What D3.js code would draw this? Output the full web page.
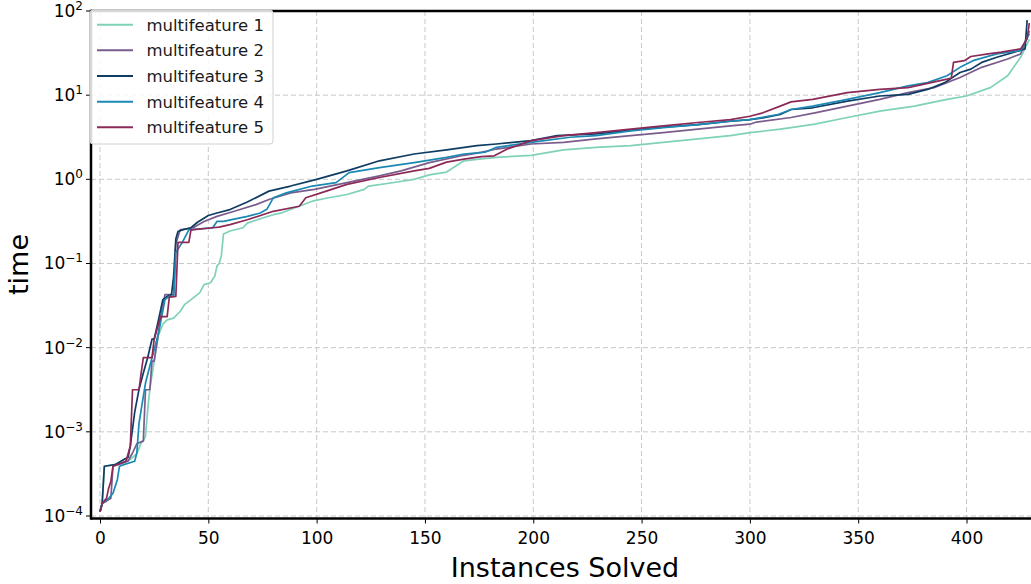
<!DOCTYPE html>
<html>
<head>
<meta charset="utf-8">
<script src="https://cdn.jsdelivr.net/npm/d3@7"></script>
<style>
body { margin: 0; background: #fff; }
svg { display: block; font-family: "DejaVu Sans", sans-serif; }
</style>
</head>
<body>
<svg id="chart" width="1031" height="584"></svg>
<script>
// series names + colours
var seriesNames = ["multifeature 1", "multifeature 2", "multifeature 3", "multifeature 4", "multifeature 5"];
var seriesColors = ["#7fd1b9", "#7a5c8c", "#0f3c62", "#1b89b4", "#8c2a57"];

// [instances solved, time]
var mf1 = [[0,1.12e-4],[1,1.4e-4],[2,3.9e-4],[7,4.1e-4],[12,4.5e-4],[14,4.7e-4],[17,5.5e-4],[19,7.4e-4],[20,7.8e-4],[21,8.9e-4],[22,1.8e-3],[23,3.2e-3],[25,6.9e-3],[27,0.0141],[29,0.019],[31,0.0214],[34,0.0224],[37,0.0269],[39,0.0324],[42,0.0372],[46,0.0447],[48,0.056],[51,0.059],[53,0.071],[54,0.093],[55,0.1],[56,0.123],[57,0.224],[60,0.243],[66,0.266],[68,0.302],[75,0.347],[80,0.38],[84,0.40],[90,0.46],[98,0.55],[105,0.6],[114,0.66],[122,0.76],[124,0.832],[135,0.91],[145,1.0],[152,1.13],[160,1.22],[168,1.66],[175,1.74],[183,1.82],[199,1.93],[214,2.24],[229,2.4],[245,2.51],[260,2.75],[276,3.02],[291,3.31],[300,3.59],[314,3.94],[319,4.12],[330,4.52],[345,5.43],[360,6.46],[376,7.41],[391,8.91],[400,9.77],[411,12.3],[419,17],[425,28.2],[429,46]];
var mf2 = [[0,1.12e-4],[1,1.41e-4],[3,1.5e-4],[5,1.62e-4],[6,3.9e-4],[10,4.2e-4],[13,4.5e-4],[15,5.6e-4],[17,7.2e-4],[20,7.8e-4],[21,3.16e-3],[23,3.16e-3],[24,6.9e-3],[25,6.9e-3],[27,0.0151],[28,0.0234],[30,0.0427],[34,0.0427],[35,0.17],[37,0.251],[43,0.266],[48,0.316],[54,0.363],[62,0.417],[72,0.5],[78,0.575],[88,0.69],[99,0.759],[114,0.912],[129,1.1],[139,1.26],[152,1.58],[168,1.93],[176,2.09],[183,2.29],[199,2.63],[214,2.75],[229,3.02],[245,3.31],[260,3.59],[276,3.94],[291,4.32],[300,4.52],[303,4.79],[319,5.43],[330,6.17],[345,7.41],[360,8.91],[373,10.7],[385,12.3],[397,16.2],[407,21.4],[419,26.9],[425,30.9],[429,58]];
var mf3 = [[0,1.12e-4],[1,1.41e-4],[2,3.9e-4],[7,4.07e-4],[11,4.68e-4],[13,5.0e-4],[14,6.8e-4],[16,1.7e-3],[18,3.2e-3],[20,5e-3],[22,7.6e-3],[24,0.0126],[25,0.0126],[27,0.0214],[29,0.0372],[31,0.0407],[33,0.0427],[34,0.071],[35,0.195],[36,0.24],[38,0.251],[42,0.266],[45,0.309],[50,0.372],[54,0.398],[60,0.437],[68,0.537],[78,0.724],[88,0.832],[100,1.0],[114,1.26],[129,1.66],[145,2.0],[160,2.24],[174,2.51],[183,2.63],[199,2.88],[211,3.31],[229,3.47],[242,3.76],[260,4.17],[276,4.47],[291,4.9],[300,5.13],[306,5.37],[314,5.89],[319,6.76],[329,7.08],[345,8.51],[360,9.77],[373,10.2],[382,11.7],[390,14.1],[397,18.6],[402,20.4],[407,24.5],[414,28.2],[422,32.4],[427,35.5],[428,78]];
var mf4 = [[0,1.12e-4],[1,1.41e-4],[4,1.62e-4],[6,1.86e-4],[8,2.7e-4],[9,3.9e-4],[11,4.07e-4],[16,4.47e-4],[17,5.6e-4],[18,1.26e-3],[21,3.8e-3],[24,7.6e-3],[27,0.0148],[30,0.0372],[32,0.0407],[34,0.0407],[35,0.135],[38,0.178],[41,0.251],[52,0.266],[54,0.316],[57,0.316],[68,0.363],[74,0.398],[77,0.44],[80,0.603],[86,0.69],[98,0.832],[109,0.912],[115,1.2],[129,1.38],[145,1.58],[160,1.82],[168,2.0],[178,2.11],[183,2.4],[199,2.75],[217,3.16],[229,3.31],[245,3.76],[260,4.12],[276,4.47],[291,4.9],[300,5.13],[313,5.89],[319,6.76],[329,7.41],[345,8.91],[360,10.7],[373,12.9],[382,14.1],[391,17.0],[397,21.4],[403,25.7],[414,30.9],[425,33.9],[429,53.7]];
var mf5 = [[0,1.12e-4],[1,1.41e-4],[3,1.62e-4],[4,2.14e-4],[5,2.57e-4],[6,3.9e-4],[12,4.47e-4],[14,6.8e-4],[15,3.16e-3],[18,3.16e-3],[19,5e-3],[20,7.6e-3],[24,7.6e-3],[25,0.0126],[27,0.019],[28,0.0234],[31,0.0234],[32,0.0398],[35,0.0407],[36,0.178],[41,0.178],[42,0.251],[52,0.266],[55,0.27],[60,0.29],[68,0.331],[80,0.417],[92,0.479],[95,0.603],[102,0.69],[114,0.871],[129,1.05],[145,1.26],[152,1.35],[160,1.6],[168,1.74],[176,1.86],[182,1.9],[188,2.29],[199,2.88],[214,3.31],[229,3.59],[245,3.94],[260,4.32],[276,4.73],[291,5.13],[300,5.62],[306,6.17],[314,7.41],[319,8.32],[329,8.91],[345,10.7],[360,11.7],[373,12.3],[391,15.5],[393,16],[394,24.5],[399,25.7],[402,28.8],[410,30.9],[416,32.4],[425,35.5],[428,46.8],[429,72]];
var allSeries = [mf1, mf2, mf3, mf4, mf5];

var xTicks = [0, 50, 100, 150, 200, 250, 300, 350, 400];
var yTicks = [-4, -3, -2, -1, 0, 1, 2]; // powers of ten

var svg = d3.select("#chart");
var pLeft = 91, pTop = 11, pBottom = 518.5, pRight = 1039;

var x = d3.scaleLinear().domain([0, 400]).range([100, 966.5]);
var y = d3.scaleLog().domain([Math.pow(10, -4.03), 100]).range([pBottom, pTop]);

svg.append("defs").append("clipPath").attr("id", "clip")
    .append("rect").attr("x", pLeft).attr("y", pTop - 1).attr("width", pRight - pLeft).attr("height", pBottom - pTop + 2);

// grid
var grid = svg.append("g");
xTicks.forEach(function(t){
    grid.append("line").attr("x1", x(t)).attr("x2", x(t)).attr("y1", pTop).attr("y2", pBottom)
        .attr("stroke", "#c8c8c8").attr("stroke-width", 1).attr("stroke-dasharray", "5,3");
});
yTicks.forEach(function(p){
    grid.append("line").attr("x1", pLeft).attr("x2", pRight).attr("y1", y(Math.pow(10, p))).attr("y2", y(Math.pow(10, p)))
        .attr("stroke", "#c8c8c8").attr("stroke-width", 1).attr("stroke-dasharray", "5,3");
});

// series
var line = d3.line().x(function(d){ return x(d[0]); }).y(function(d){ return y(d[1]); });
var plot = svg.append("g").attr("clip-path", "url(#clip)");
allSeries.forEach(function(s, k){
    plot.append("path").datum(s).attr("d", line)
        .attr("fill", "none").attr("stroke", seriesColors[k]).attr("stroke-width", 1.7)
        .attr("stroke-linejoin", "round");
});

// spines
svg.append("line").attr("x1", pLeft).attr("x2", pLeft).attr("y1", pTop - 1.25).attr("y2", pBottom + 1.25).attr("stroke", "#000").attr("stroke-width", 2.5);
svg.append("line").attr("x1", pLeft).attr("x2", pRight).attr("y1", pTop).attr("y2", pTop).attr("stroke", "#000").attr("stroke-width", 2.5);
svg.append("line").attr("x1", pLeft).attr("x2", pRight).attr("y1", pBottom).attr("y2", pBottom).attr("stroke", "#000").attr("stroke-width", 2.5);

// x axis
var xAxis = svg.append("g").attr("transform", "translate(0," + pBottom + ")")
    .call(d3.axisBottom(x).tickValues(xTicks).tickSize(5).tickPadding(8));
xAxis.select(".domain").remove();
xAxis.selectAll("line").attr("stroke", "#000").attr("stroke-width", 1);
xAxis.selectAll("text").attr("font-size", 17).attr("fill", "#000").attr("font-family", "DejaVu Sans");

// y axis with 10^n labels
var yAxis = svg.append("g");
yTicks.forEach(function(p){
    var yy = y(Math.pow(10, p));
    yAxis.append("line").attr("x1", pLeft - 5).attr("x2", pLeft).attr("y1", yy).attr("y2", yy).attr("stroke", "#000");
    var t = yAxis.append("text").attr("x", pLeft - 8).attr("y", yy + 6).attr("text-anchor", "end")
        .attr("font-size", 17).attr("fill", "#000");
    t.append("tspan").text("10");
    t.append("tspan").attr("dy", -7).attr("font-size", 12).text(p < 0 ? "\u2212" + (-p) : String(p));
});

// axis titles
svg.append("text").attr("x", 565).attr("y", 577).attr("text-anchor", "middle")
    .attr("font-size", 27).text("Instances Solved");
svg.append("text").attr("transform", "translate(28,264.5) rotate(-90)").attr("text-anchor", "middle")
    .attr("font-size", 27).text("time");

// legend
var lg = svg.append("g");
lg.append("rect").attr("x", 90).attr("y", 10).attr("width", 183).attr("height", 134).attr("rx", 3)
    .attr("fill", "#fff").attr("fill-opacity", 0.85).attr("stroke", "#d0d0d0").attr("stroke-width", 1);
seriesNames.forEach(function(n, k){
    var yy = 24.7 + k * 25.65;
    lg.append("line").attr("x1", 97).attr("x2", 133).attr("y1", yy).attr("y2", yy)
        .attr("stroke", seriesColors[k]).attr("stroke-width", 2);
    lg.append("text").attr("x", 146.5).attr("y", yy + 6).attr("font-size", 16.5).attr("fill", "#1a1a1a").text(n);
});
</script>
</body>
</html>
